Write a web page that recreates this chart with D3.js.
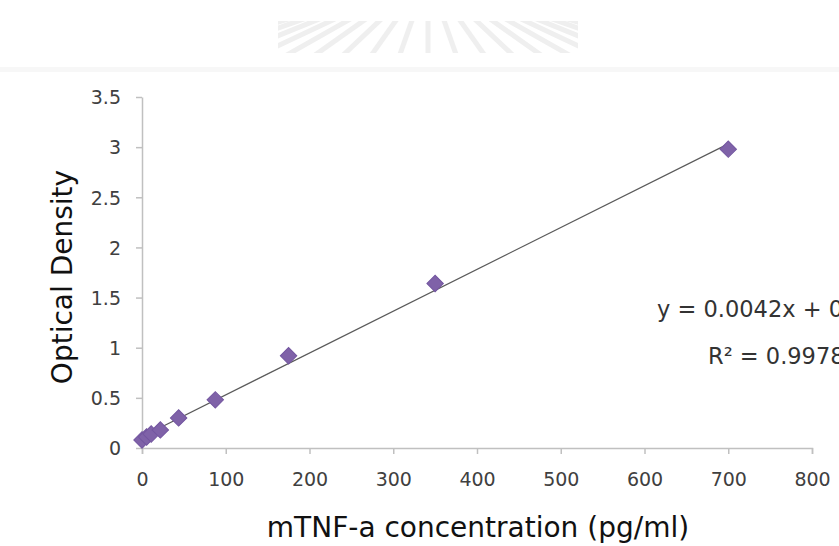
<!DOCTYPE html>
<html>
<head>
<meta charset="utf-8">
<script src="https://cdn.jsdelivr.net/npm/d3@7"></script>
<style>
    body { margin: 0; background: #fff; }
    svg text { font-family: "DejaVu Sans", Tahoma, sans-serif; }
</style>
</head>
<body>
<div id="chart"></div>
<script>
// standard curve points (concentration pg/ml vs OD)
const concentration = [0, 5.47, 10.94, 21.88, 43.75, 87.5, 175, 350, 700];
const opticalDensity = [0.08, 0.11, 0.14, 0.18, 0.30, 0.48, 0.92, 1.64, 2.98];
const xTicks = [0, 100, 200, 300, 400, 500, 600, 700, 800];
const yTicks = [0, 0.5, 1, 1.5, 2, 2.5, 3, 3.5];
const equationText = "y = 0.0042x + 0.0655";
const r2Text = "R\u00b2 = 0.9978";

const width = 839, height = 546;
const margin = {top: 97, right: 27, bottom: 98, left: 142};

const svg = d3.select("#chart")
    .append("svg")
    .attr("width", width)
    .attr("height", height)

// faded header (watermark rays + rule)
svg.append("defs").append("clipPath")
    .attr("id", "band")
    .append("rect")
    .attr("x", 278).attr("y", 21)
    .attr("width", 300).attr("height", 32)
const header = svg.append("g")
header.append("rect")
    .attr("x", 0).attr("y", 67)
    .attr("width", width).attr("height", 5)
    .attr("fill", "#f7f7f7")
let rays = d3.range(-9, 10)
header.append("g")
    .attr("clip-path", "url(#band)")
    .selectAll("line")
    .data(rays)
    .enter()
    .append("line")
    .attr("x1", 428)
    .attr("y1", -25)
    .attr("x2", d => 428 + d * 30)
    .attr("y2", 60)
    .attr("stroke", "#efefef")
    .attr("stroke-width", 5)

let x = d3.scaleLinear()
    .domain([0, 800])
    .range([margin.left, width - margin.right])
let y = d3.scaleLinear()
    .domain([0, 3.5])
    .range([height - margin.bottom, margin.top])

// axes
let xAxis = svg.append("g")
    .attr("transform", "translate(0," + y(0) + ")")
    .call(d3.axisBottom(x).tickValues(xTicks).tickSize(6).tickSizeOuter(6).tickPadding(19))
let yAxis = svg.append("g")
    .attr("transform", "translate(" + x(0) + ",0)")
    .call(d3.axisLeft(y).tickValues(yTicks).tickFormat(d3.format("~g")).tickSize(6).tickSizeOuter(0).tickPadding(15))

for (let ax of [xAxis, yAxis]) {
    ax.select(".domain").attr("stroke", "#c0c0c0").attr("stroke-width", 1.5)
    ax.selectAll(".tick line").attr("stroke", "#c0c0c0").attr("stroke-width", 1.5)
    ax.selectAll(".tick text")
        .attr("fill", "#404040")
        .style("font-size", "19px")
}
xAxis.selectAll(".tick text").attr("dy", "0.71em")
yAxis.selectAll(".tick text").attr("dy", "0.36em")

// linear trendline (least squares)
let mx = d3.mean(concentration), my = d3.mean(opticalDensity)
let sxy = d3.sum(concentration, (c, i) => (c - mx) * (opticalDensity[i] - my))
let sxx = d3.sum(concentration, c => (c - mx) * (c - mx))
let slope = sxy / sxx
let intercept = my - slope * mx
let xmin = d3.min(concentration), xmax = d3.max(concentration)

svg.append("line")
    .attr("x1", x(xmin))
    .attr("y1", y(intercept + slope * xmin))
    .attr("x2", x(xmax))
    .attr("y2", y(intercept + slope * xmax))
    .attr("stroke", "#5a5a5a")
    .attr("stroke-width", 1.2)

// markers
svg.selectAll("path.point")
    .data(concentration)
    .enter()
    .append("path")
    .attr("class", "point")
    .attr("d", d3.symbol().type(d3.symbolSquare).size(135))
    .attr("transform", (d, i) => "translate(" + x(d) + "," + y(opticalDensity[i]) + ") rotate(45)")
    .attr("fill", "#7f62a8")
    .attr("stroke", "#7356a0")
    .attr("stroke-width", 1)

// equation labels (cut off at the right edge, as in the source figure)
svg.append("text")
    .attr("x", 657)
    .attr("y", 317)
    .attr("fill", "#333")
    .style("font-size", "22.5px")
    .text(equationText)
svg.append("text")
    .attr("x", 708)
    .attr("y", 364)
    .attr("fill", "#333")
    .style("font-size", "22.5px")
    .text(r2Text)

// axis titles
svg.append("text")
    .attr("x", 478)
    .attr("y", 537)
    .attr("text-anchor", "middle")
    .attr("fill", "#111")
    .style("font-size", "28px")
    .text("mTNF-a concentration (pg/ml)")
svg.append("text")
    .attr("transform", "translate(72,277) rotate(-90)")
    .attr("text-anchor", "middle")
    .attr("fill", "#111")
    .style("font-size", "28px")
    .text("Optical Density")
</script>
</body>
</html>
